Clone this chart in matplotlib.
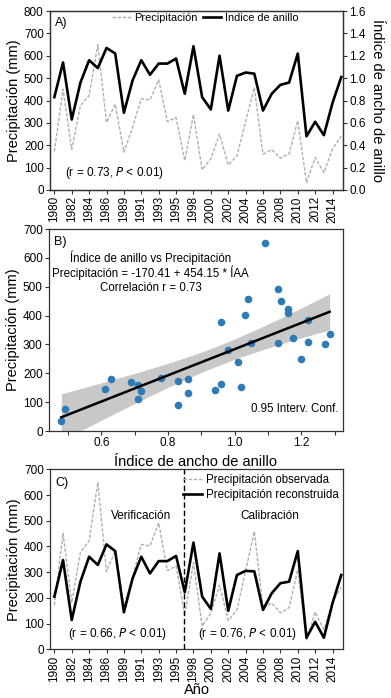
import matplotlib
matplotlib.use("Agg")
import matplotlib.pyplot as plt
import numpy as np

plt.rcParams['font.family'] = ['Liberation Sans', 'DejaVu Sans']

# years (1988 and 1997 missing in the series)
years = [1980, 1981, 1982, 1983, 1984, 1985, 1986, 1987, 1989, 1990, 1991, 1992,
         1993, 1994, 1995, 1996, 1998, 1999, 2000, 2001, 2002, 2003, 2004, 2005,
         2006, 2007, 2008, 2009, 2010, 2011, 2012, 2013, 2014, 2015]
# observed precipitation (mm)
precip = [172, 451, 181, 378, 422, 650, 302, 383, 169, 280, 408, 402,
          492, 306, 324, 132, 337, 90, 140, 250, 112, 152, 305, 458,
          160, 180, 142, 162, 310, 33, 145, 77, 184, 240]
# ring width index
iaa = [0.83, 1.14, 0.63, 0.96, 1.16, 1.09, 1.27, 1.22, 0.69, 0.98, 1.16, 1.03,
       1.13, 1.13, 1.175, 0.86, 1.285, 0.83, 0.72, 1.20, 0.71, 1.02, 1.05, 1.04,
       0.71, 0.86, 0.94, 0.96, 1.22, 0.48, 0.61, 0.49, 0.78, 1.01]
# reconstructed precipitation (mm)
recon = [205, 347, 114, 263, 360, 328, 408, 382, 144, 276, 360, 295,
         343, 343, 363, 222, 415, 205, 157, 373, 150, 289, 305, 303,
         153, 218, 257, 263, 382, 45, 107, 45, 180, 289]

intercept, slope = -170.41, 454.15
split_year = 1996

x = np.arange(len(years))
tick_idx = x[::2]
tick_lab = [str(years[i]) for i in tick_idx]

W, H = 391, 698
fig = plt.figure(figsize=(W / 100, H / 100), dpi=100)

def px_axes(l, t, r, b):
    return fig.add_axes([l / W, 1 - b / H, (r - l) / W, (b - t) / H])

def style(ax):
    for s in ax.spines.values():
        s.set_color('#333333')
        s.set_linewidth(0.9)
    ax.tick_params(direction='out', length=3, width=0.8, labelsize=8.5, pad=1.5,
                   color='#333333')

grey = '#b0b0b0'

# ---- A) ----
ax1 = px_axes(50, 11, 343, 190)
ax1.plot(x, precip, ls=(0, (2.5, 1.2)), color=grey, lw=1.0, label='Precipitación')
ax1.set_ylim(0, 800)
ax1.set_yticks(range(0, 801, 100))
ax1.set_xlim(-0.5, 33.2)
ax1.set_xticks(tick_idx)
ax1.set_xticklabels(tick_lab, rotation=90)
ax1.set_ylabel('Precipitación (mm)', fontsize=10.5, labelpad=2)
ax2 = ax1.twinx()
ax2.plot(x, iaa, color='black', lw=1.9, label='Índice de anillo')
ax2.set_ylim(0, 1.6)
ax2.set_yticks(np.arange(0, 1.61, 0.2))
ax2.set_yticklabels([f'{v:.1f}' for v in np.arange(0, 1.61, 0.2)])
ax2.set_ylabel('Índice de ancho de anillo', fontsize=10.5, rotation=270, labelpad=13)
style(ax1)
style(ax2)
h1, l1 = ax1.get_legend_handles_labels()
h2, l2 = ax2.get_legend_handles_labels()
ax1.legend(h1 + h2, l1 + l2, ncol=2, frameon=False, fontsize=7.9,
           loc='upper left', bbox_to_anchor=(0.185, 1.03), handlelength=1.7,
           columnspacing=0.5, handletextpad=0.3, borderaxespad=0.3)
ax1.text(0.018, 0.965, 'A)', transform=ax1.transAxes, fontsize=9, va='top')
ax1.text(0.22, 0.095, '(r = 0.73, $\\it{P}$ < 0.01)', transform=ax1.transAxes,
         fontsize=8.5, ha='center', va='center')

# ---- B) ----
axb = px_axes(49, 229, 343, 431)
iaa_a = np.array(iaa)
pr_a = np.array(precip)
xs = np.linspace(iaa_a.min(), iaa_a.max(), 100)
fit = intercept + slope * xs
n = len(iaa_a)
resid = pr_a - (intercept + slope * iaa_a)
s_err = np.sqrt(np.sum(resid ** 2) / (n - 2))
sxx = np.sum((iaa_a - iaa_a.mean()) ** 2)
ci = 2.037 * s_err * np.sqrt(1 / n + (xs - iaa_a.mean()) ** 2 / sxx)
axb.fill_between(xs, fit - ci, fit + ci, color='#c8c8c8', lw=0, zorder=1)
axb.scatter(iaa_a, pr_a, s=30, color='#2f7bb6', zorder=2, lw=0)
axb.plot(xs, fit, color='black', lw=1.8, zorder=3)
axb.set_xlim(0.443, 1.325)
axb.set_ylim(0, 700)
axb.set_xticks([0.6, 0.8, 1.0, 1.2])
axb.set_xticks([0.5, 0.7, 0.9, 1.1, 1.3], minor=True)
axb.set_yticks(range(0, 701, 100))
style(axb)
axb.tick_params(which='minor', direction='out', length=3, width=0.8, color='#333333')
axb.set_xlabel('Índice de ancho de anillo', fontsize=10.5, labelpad=4)
axb.set_ylabel('Precipitación (mm)', fontsize=10.5, labelpad=2)
axb.text(0.018, 0.965, 'B)', transform=axb.transAxes, fontsize=9, va='top')
axb.text(0.345, 0.86, 'Índice de anillo vs Precipitación', transform=axb.transAxes,
         fontsize=8.3, ha='center', va='center')
axb.text(0.345, 0.785, 'Precipitación = -170.41 + 454.15 * ÍAA', transform=axb.transAxes,
         fontsize=8.3, ha='center', va='center')
axb.text(0.345, 0.71, 'Correlación r = 0.73', transform=axb.transAxes,
         fontsize=8.3, ha='center', va='center')
axb.text(0.985, 0.11, '0.95 Interv. Conf.', transform=axb.transAxes,
         fontsize=8.3, ha='right', va='center')

# ---- C) ----
axc = px_axes(50, 469.3, 343, 649.3)
axc.plot(x, precip, ls=(0, (2.5, 1.2)), color=grey, lw=1.0, label='Precipitación observada')
axc.plot(x, recon, color='black', lw=1.9, label='Precipitación reconstruida')
axc.axvline(years.index(split_year) - 0.1, color='black', lw=1.0, ls=(0, (4, 2)))
axc.set_ylim(0, 700)
axc.set_yticks(range(0, 701, 100))
axc.set_xlim(-0.5, 33.2)
axc.set_xticks(tick_idx)
axc.set_xticklabels(tick_lab, rotation=90)
style(axc)
axc.set_ylabel('Precipitación (mm)', fontsize=10.5, labelpad=2)
axc.set_xlabel('Año', fontsize=10.5, labelpad=1)
axc.legend(frameon=False, fontsize=8.3, loc='upper right', bbox_to_anchor=(1.02, 1.03),
           handlelength=1.7, handletextpad=0.3, labelspacing=0.25)
axc.text(0.018, 0.955, 'C)', transform=axc.transAxes, fontsize=9, va='top')
axc.text(0.31, 0.74, 'Verificación', transform=axc.transAxes, fontsize=8.5,
         ha='center', va='center')
axc.text(0.75, 0.74, 'Calibración', transform=axc.transAxes, fontsize=8.5,
         ha='center', va='center')
axc.text(0.23, 0.085, '(r = 0.66, $\\it{P}$ < 0.01)', transform=axc.transAxes,
         fontsize=8.5, ha='center', va='center')
axc.text(0.675, 0.085, '(r = 0.76, $\\it{P}$ < 0.01)', transform=axc.transAxes,
         fontsize=8.5, ha='center', va='center')

fig.savefig('out.png', dpi=100)
